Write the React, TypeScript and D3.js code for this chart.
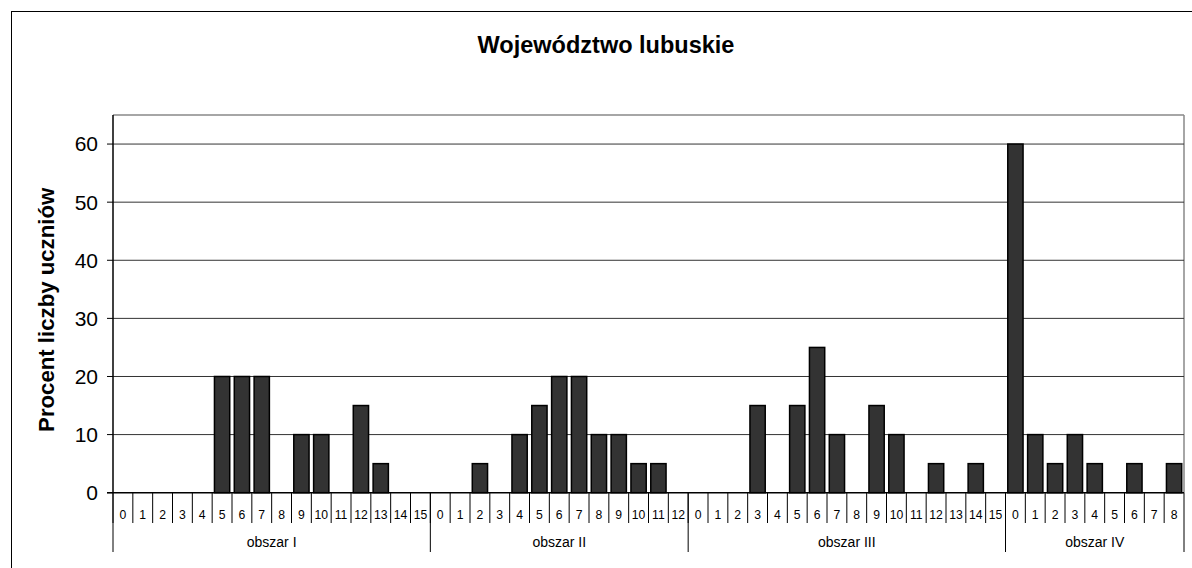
import React from "react";
import * as d3 from "d3";

const groups = ["obszar I", "obszar II", "obszar III", "obszar IV"];
const groupCategories = [
  ["0","1","2","3","4","5","6","7","8","9","10","11","12","13","14","15"],
  ["0","1","2","3","4","5","6","7","8","9","10","11","12"],
  ["0","1","2","3","4","5","6","7","8","9","10","11","12","13","14","15"],
  ["0","1","2","3","4","5","6","7","8"],
];
const obszarI = [0, 0, 0, 0, 0, 20, 20, 20, 0, 10, 10, 0, 15, 5, 0, 0];
const obszarII = [0, 0, 5, 0, 10, 15, 20, 20, 10, 10, 5, 5, 0];
const obszarIII = [0, 0, 0, 15, 0, 15, 25, 10, 0, 15, 10, 0, 5, 0, 5, 0];
const obszarIV = [60, 10, 5, 10, 5, 0, 5, 0, 5];
const groupValues = [obszarI, obszarII, obszarIII, obszarIV];
const yTicks = [0, 10, 20, 30, 40, 50, 60];
const title = "Województwo lubuskie";
const yLabel = "Procent liczby uczniów";

const W = 1192;
const H = 568;
const left = 113;
const right = 1184;
const top = 115;
const bottom = 492.7;
const font = "'Liberation Sans', Arial, sans-serif";

export default function App() {
  const items: { key: string; label: string; value: number; g: number }[] = [];
  groups.forEach((g, gi) => {
    groupCategories[gi].forEach((c, ci) => {
      items.push({ key: `${gi}-${ci}`, label: c, value: groupValues[gi][ci], g: gi });
    });
  });
  const x = d3.scaleBand<string>().domain(items.map((d) => d.key)).range([left, right]).padding(0);
  const y = d3.scaleLinear().domain([0, 65]).range([bottom, top]);
  const bw = x.bandwidth();
  const barW = bw * 0.77;

  const groupBounds: { start: number; end: number; name: string }[] = [];
  let idx = 0;
  groups.forEach((g, gi) => {
    const n = groupCategories[gi].length;
    const start = x(items[idx].key)!;
    const end = x(items[idx + n - 1].key)! + bw;
    groupBounds.push({ start, end, name: g });
    idx += n;
  });

  return (
    <svg width={W} height={H} style={{ position: "absolute", left: 0, top: 0, background: "#fff" }} fontFamily={font}>
      <rect x={0} y={0} width={W} height={H} fill="#fff" />
      <rect x={11.5} y={11.5} width={W + 20} height={H + 20} fill="none" stroke="#000" strokeWidth={1} />
      <text x={606} y={52.5} textAnchor="middle" fontSize={23.5} fontWeight="bold">{title}</text>
      <text transform={`translate(54,${(top + bottom) / 2 + 6}) rotate(-90)`} textAnchor="middle" fontSize={22.2} fontWeight="bold">{yLabel}</text>
      <line x1={left} x2={right} y1={top} y2={top} stroke="#888" strokeWidth={1.5} />
      <line x1={right} x2={right} y1={top} y2={bottom} stroke="#888" strokeWidth={1.5} />
      {yTicks.filter((t) => t > 0).map((t) => (
        <line key={t} x1={left} x2={right} y1={y(t)} y2={y(t)} stroke="#333" strokeWidth={1} />
      ))}
      {yTicks.map((t) => (
        <g key={t}>
          <line x1={107} x2={left} y1={y(t)} y2={y(t)} stroke="#000" strokeWidth={1} />
          <text x={98} y={y(t)} dy="0.35em" textAnchor="end" fontSize={21}>{t}</text>
        </g>
      ))}
      {items.filter((d) => d.value > 0).map((d) => (
        <rect key={d.key} x={x(d.key)! + (bw - barW) / 2} y={y(d.value)} width={barW} height={bottom - y(d.value)} fill="#333" stroke="#000" strokeWidth={1.5} />
      ))}
      <line x1={left} x2={left} y1={top} y2={bottom} stroke="#000" strokeWidth={1.5} />
      <line x1={left - 6} x2={right} y1={bottom} y2={bottom} stroke="#000" strokeWidth={1.5} />
      {items.map((d) => (
        <line key={"t" + d.key} x1={x(d.key)!} x2={x(d.key)!} y1={bottom} y2={523} stroke="#000" strokeWidth={1} />
      ))}
      {items.map((d) => (
        <text key={"l" + d.key} x={x(d.key)! + bw / 2} y={518.5} textAnchor="middle" fontSize={12.2}>{d.label}</text>
      ))}
      {groupBounds.map((g, i) => (
        <g key={g.name}>
          <line x1={g.start} x2={g.start} y1={bottom} y2={552} stroke="#000" strokeWidth={1} />
          {i === groupBounds.length - 1 && (
            <line x1={g.end} x2={g.end} y1={bottom} y2={552} stroke="#000" strokeWidth={1} />
          )}
          <text x={(g.start + g.end) / 2} y={547} textAnchor="middle" fontSize={14}>{g.name}</text>
        </g>
      ))}
    </svg>
  );
}
